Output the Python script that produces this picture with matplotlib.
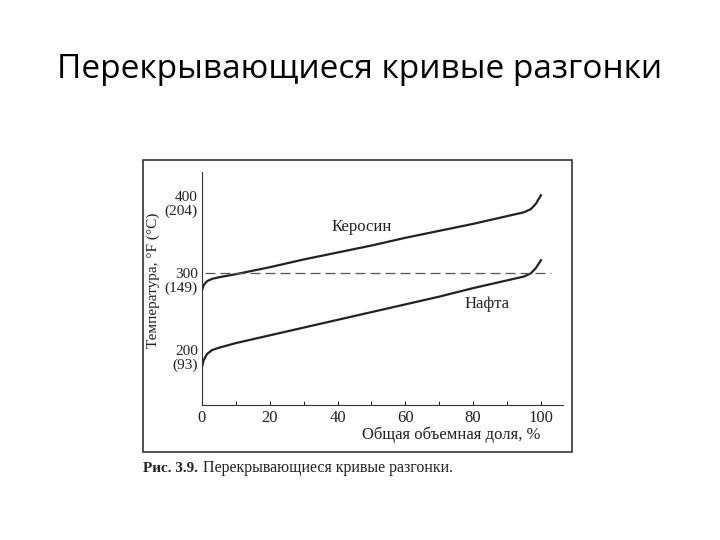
import matplotlib.pyplot as plt
from matplotlib.patches import Rectangle

title = "Перекрывающиеся кривые разгонки"
caption_bold = "Рис. 3.9."
caption = "Перекрывающиеся кривые разгонки."

ker_x = [0, 0.5, 1.5, 3, 5, 10, 20, 30, 40, 50, 60, 70, 80, 90, 95, 97, 98.5, 100]
ker_y = [286, 293, 298, 301, 303, 307, 316, 326, 335, 344, 354, 363, 372, 382, 387, 391, 398, 409]
naf_x = [0, 0.5, 1.5, 3, 5, 10, 20, 30, 40, 50, 60, 70, 80, 90, 95, 97, 98.5, 100]
naf_y = [187, 196, 204, 209, 212, 218, 228, 238, 248, 258, 268, 278, 289, 299, 304, 308, 315, 325]
dash_y = 309
yticks = [200, 300, 400]
ytick_labels = ["200\n(93)", "300\n(149)", "400\n(204)"]
xticks = [0, 20, 40, 60, 80, 100]

plt.rcParams['font.family'] = ['Liberation Serif', 'DejaVu Serif']
fig = plt.figure(figsize=(7.2, 5.4), dpi=100)

fig.text(0.5, 1 - 70/540, title, ha='center', va='center', fontsize=24,
         family=['Open Sans', 'DejaVu Sans'])
fig.patches.append(Rectangle((143/720, 1 - 452/540), (572-143)/720, (452-160)/540,
                             transform=fig.transFigure, fill=False, ec='#333333', lw=1.2))
fig.text(143/720, 1 - 468/540, caption_bold, fontsize=11, weight='bold', va='center', color='#222222')
fig.text(203/720, 1 - 468/540, caption, fontsize=11.5, va='center', color='#222222')

ax = fig.add_axes([202/720, 1 - 405/540, (563-202)/720, (405-172)/540])
ax.plot(ker_x, ker_y, color='#222222', lw=1.6)
ax.plot(naf_x, naf_y, color='#222222', lw=1.6)
ax.plot([1, 103], [dash_y, dash_y], color='#555555', lw=0.9, dashes=(8, 4))
ax.text(47, 368, "Керосин", fontsize=12, ha='center', va='center', color='#222222')
ax.text(84, 268, "Нафта", fontsize=12, ha='center', va='center', color='#222222')

ax.set_xlim(0, 106.5)
ax.set_ylim(138, 439)
ax.set_xticks(xticks)
ax.set_xticks(range(10, 100, 20), minor=True)
ax.set_yticks(yticks)
ax.set_yticklabels(ytick_labels, fontsize=11, linespacing=1.05)
ax.tick_params(axis='x', direction='in', length=3, labelsize=12, colors='#222222')
ax.tick_params(axis='x', which='minor', direction='in', length=3)
ax.tick_params(axis='y', length=0, pad=3, colors='#222222')
for s in ['top', 'right']:
    ax.spines[s].set_visible(False)
ax.spines['left'].set_color('#333333')
ax.spines['bottom'].set_color('#333333')

fig.text(541/720, 1 - 435/540, "Общая объемная доля, %", fontsize=12, ha='right', va='center', color='#222222')
fig.text(153/720, 1 - 280/540, "Температура, °F (°C)", fontsize=11, rotation=90,
         ha='center', va='center', color='#222222')

fig.savefig('out.png', dpi=100)
